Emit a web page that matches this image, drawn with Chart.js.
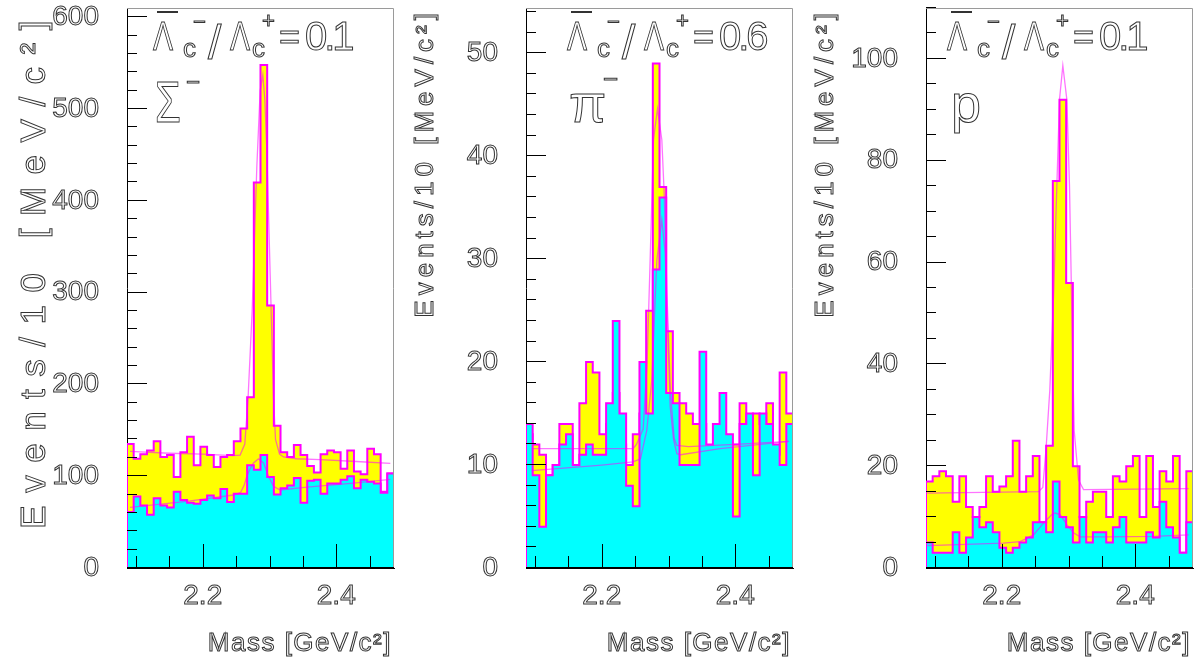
<!DOCTYPE html>
<html>
<head>
<meta charset="utf-8">
<title>Lambda_c mass spectra</title>
<script src="https://cdn.jsdelivr.net/npm/chart.js@4.4.1/dist/chart.umd.min.js"></script>
<style>
  body { margin: 0; background: #fff; width: 1197px; height: 666px; overflow: hidden; }
  canvas { position: absolute; top: 0; }
</style>
</head>
<body>
<canvas id="pad1" width="399" height="666" style="left:0px"></canvas>
<canvas id="pad2" width="399" height="666" style="left:399px"></canvas>
<canvas id="pad3" width="398" height="666" style="left:799px"></canvas>
<script>
// mass binning: 40 bins of 10 MeV around the Lambda_c mass
const massLo = 2.0865;
const binWidth = 0.01;
const nBins = 40;
const binEdges = Array.from({ length: nBins + 1 }, (_, i) => +(massLo + i * binWidth).toFixed(4));
const massTicks = [2.1, 2.15, 2.2, 2.25, 2.3, 2.35, 2.4, 2.45];
const massLabels = [2.2, 2.4];

// Sigma- channel
const sigmaYellow = [135, 119, 124, 128, 138, 121, 123, 99, 126, 143, 112, 132, 123, 110, 121, 123, 138, 152, 186, 420,
  548, 286, 155, 126, 121, 134, 123, 111, 104, 124, 128, 126, 108, 128, 105, 102, 130, 124, 83, 103];
const sigmaCyan = [61, 78, 68, 58, 76, 68, 66, 83, 74, 71, 70, 74, 79, 76, 86, 72, 81, 81, 112, 107,
  123, 99, 80, 87, 90, 98, 71, 95, 96, 81, 92, 92, 96, 100, 87, 96, 94, 92, 82, 103];
const sigmaFitYellow = [[2.091, 127], [2.15, 125], [2.2, 124], [2.245, 122.5], [2.256, 123], [2.263, 135], [2.268, 187],
  [2.274, 280], [2.281, 437], [2.286, 520], [2.29, 537], [2.293, 510], [2.296, 455], [2.301, 320], [2.306, 185],
  [2.309, 140], [2.315, 124], [2.321, 121], [2.34, 119], [2.376, 118], [2.43, 116], [2.481, 114]];
const sigmaFitCyan = [[2.091, 66], [2.176, 72.5], [2.246, 79.5], [2.2565, 82], [2.262, 90], [2.266, 100], [2.271, 108],
  [2.276, 114.5], [2.2835, 119], [2.291, 114.5], [2.2985, 100], [2.306, 89], [2.316, 85], [2.356, 88], [2.426, 92.5],
  [2.481, 96.5]];

// pi- channel
const piYellow = [13, 12, 11, 9, 10, 14, 14, 10, 16, 20, 19, 13, 14, 17, 12, 10, 13, 15, 25, 49,
  37, 23, 17, 16, 15, 14, 14, 11, 12, 13, 12, 12, 16, 13, 15, 14, 16, 11, 19, 15];
const piCyan = [14, 9, 4, 9, 10, 12, 13, 10, 11, 12, 11, 11, 16, 24, 15, 8, 6, 20, 15, 29,
  36, 17, 16, 10, 10, 10, 21, 12, 14, 17, 13, 5, 14, 15, 9, 15, 14, 12, 10, 14];
const piFitYellow = [[2.095, 11.6], [2.247, 11.6], [2.252, 12.0], [2.262, 13.5], [2.268, 20], [2.2725, 30], [2.2775, 41.6],
  [2.2835, 44.6], [2.29, 41.6], [2.2935, 36.4], [2.298, 26], [2.303, 17], [2.3085, 12.6], [2.3125, 11.9], [2.33, 11.8],
  [2.4, 12.0], [2.48, 12.3]];
const piFitCyan = [[2.095, 9.45], [2.2, 10.0], [2.247, 10.3], [2.258, 10.6], [2.2675, 13.4], [2.275, 18.3], [2.2825, 29.9],
  [2.29, 33.8], [2.295, 30.6], [2.3025, 15.7], [2.3075, 12.5], [2.3125, 11.1], [2.318, 11.0], [2.3775, 11.6], [2.48, 12.3]];

// proton channel
const protonYellow = [17, 18, 19, 18, 13, 18, 12, 10, 12, 18, 15, 16, 18, 25, 15, 18, 22, 9, 24, 76,
  92, 56, 20, 10, 13, 15, 15, 10, 18, 17, 20, 22, 10, 22, 12, 19, 17, 22, 3, 19];
const protonCyan = [5, 3, 3, 3, 7, 3, 6, 10, 8, 9, 7, 4, 3, 4, 5, 6, 9, 9, 7, 17,
  10, 8, 5, 10, 5, 7, 7, 5, 8, 10, 5, 5, 5, 7, 6, 13, 8, 6, 3, 9];
const protonFitYellow = [[2.0885, 14.7], [2.2, 14.9], [2.255, 15.0], [2.2615, 15.8], [2.2665, 23.7], [2.272, 35], [2.278, 55],
  [2.2825, 75], [2.2865, 92], [2.2915, 98.7], [2.2975, 92], [2.3015, 75], [2.305, 50], [2.3085, 27], [2.315, 17.3],
  [2.3225, 15.4], [2.4, 15.5], [2.48, 15.6]];
const protonFitCyan = [[2.0885, 4.4], [2.2025, 4.9], [2.2275, 5.2], [2.2475, 6.5], [2.2625, 8.8], [2.275, 10.5], [2.28, 10.8],
  [2.2875, 10.5], [2.2975, 8.5], [2.3075, 6.9], [2.3175, 6.1], [2.3575, 6.1], [2.4275, 6.2], [2.48, 6.5]];

const FONT = '"Liberation Sans", Arial, sans-serif';
const INK = '#333';
const MAGENTA = '#ff00ff';
const FIT = 'rgba(255, 0, 255, 0.55)';

// outline-only text, like the hollow ROOT fonts
function hollowText(ctx, str, x, y, size, o = {}) {
  ctx.save();
  ctx.font = size + 'px ' + FONT;
  ctx.textAlign = o.align || 'left';
  ctx.textBaseline = 'alphabetic';
  ctx.letterSpacing = (o.spacing || 0) + 'px';
  ctx.lineWidth = 1;
  ctx.strokeStyle = INK;
  ctx.translate(x, y);
  if (o.rotate) ctx.rotate(-Math.PI / 2);
  if (o.sx) ctx.scale(o.sx, 1);
  ctx.strokeText(str, 0, 0);
  ctx.restore();
}

function drawRatio(ctx, x0, value) {
  hollowText(ctx, 'Λ', x0, 50, 40, { sx: 0.75 });
  ctx.fillStyle = INK;
  ctx.fillRect(x0 + 4, 11, 21, 2);
  hollowText(ctx, 'c', x0 + 30, 57, 26);
  hollowText(ctx, '−', x0 + 40, 29, 22);
  hollowText(ctx, '/', x0 + 55, 59, 48);
  hollowText(ctx, 'Λ', x0 + 77, 50, 40, { sx: 0.75 });
  hollowText(ctx, 'c', x0 + 99, 57, 26);
  hollowText(ctx, '+', x0 + 109, 28, 22);
  hollowText(ctx, '=', x0 + 126, 49, 36);
  hollowText(ctx, value, x0 + 152, 50, 40, { spacing: -3 });
}

function histPoints(vals) {
  const pts = [{ x: binEdges[0], y: 0 }];
  vals.forEach((v, i) => pts.push({ x: binEdges[i], y: v }));
  pts.push({ x: binEdges[nBins], y: vals[nBins - 1] });
  pts.push({ x: binEdges[nBins], y: 0 });
  return pts;
}

// inward ticks and the grey frame, drawn over the histograms
const rootFrame = {
  id: 'rootFrame',
  afterDatasetsDraw(chart) {
    const { ctx, chartArea: a, scales: { x, y } } = chart;
    ctx.save();
    ctx.strokeStyle = '#9a9a9a';
    ctx.lineWidth = 1;
    ctx.beginPath();
    ctx.moveTo(a.left, a.top + 0.5);
    ctx.lineTo(a.right - 0.5, a.top + 0.5);
    ctx.lineTo(a.right - 0.5, a.bottom);
    ctx.stroke();
    ctx.strokeStyle = '#000';
    ctx.beginPath();
    ctx.moveTo(a.left, a.bottom - 0.5);
    ctx.lineTo(a.right, a.bottom - 0.5);
    x.ticks.forEach(t => {
      const px = Math.round(x.getPixelForValue(t.value)) + 0.5;
      const len = t.label ? 24 : 12;
      ctx.moveTo(px, a.bottom);
      ctx.lineTo(px, a.bottom - len);
    });
    y.ticks.forEach(t => {
      const py = Math.round(y.getPixelForValue(t.value)) - 0.5;
      const len = t.label ? 20 : 10;
      ctx.moveTo(a.left, py);
      ctx.lineTo(a.left + len, py);
    });
    ctx.stroke();
    ctx.restore();
  }
};

function makePad(p) {
  const textPlugin = {
    id: 'padText',
    afterDraw(chart) {
      const ctx = chart.ctx;
      hollowText(ctx, 'Events/10 [MeV/c²]', p.yTitle.x, 8, p.yTitle.size, { rotate: true, align: 'right', spacing: p.yTitle.spacing });
      hollowText(ctx, 'Mass [GeV/c²]', 392, 651, 26, { align: 'right', spacing: 1.5 });
      drawRatio(ctx, p.ratioX, p.ratio);
      p.particle.forEach(t => hollowText(ctx, t.text, t.x, t.y, t.size, { sx: t.sx }));
    }
  };

  const tickFont = { family: FONT, size: 28 };
  new Chart(document.getElementById(p.id), {
    type: 'line',
    data: {
      datasets: [
        { data: p.fitA.map(([x, y]) => ({ x, y })), borderColor: FIT, borderWidth: 1.3, fill: false, order: 0 },
        { data: p.fitB.map(([x, y]) => ({ x, y })), borderColor: FIT, borderWidth: 1.3, fill: false, order: 1 },
        { data: histPoints(p.cyan), stepped: true, fill: 'origin', backgroundColor: '#00ffff', borderColor: MAGENTA, borderWidth: 2, order: 2 },
        { data: histPoints(p.yellow), stepped: true, fill: 'origin', backgroundColor: '#ffff00', borderColor: MAGENTA, borderWidth: 2, order: 3 }
      ]
    },
    options: {
      responsive: false,
      animation: false,
      elements: { point: { radius: 0 }, line: { tension: 0 } },
      layout: { padding: { top: 8, right: p.padRight, left: 0, bottom: 0 } },
      plugins: { legend: { display: false }, tooltip: { enabled: false } },
      scales: {
        x: {
          type: 'linear',
          min: binEdges[0],
          max: binEdges[nBins],
          afterBuildTicks: s => { s.ticks = massTicks.map(v => ({ value: v })); },
          afterFit: s => { s.height = 98; s.paddingLeft = 0; s.paddingRight = 0; },
          grid: { display: false, drawTicks: false },
          border: { display: true, color: '#000', width: 1 },
          ticks: {
            autoSkip: false, maxRotation: 0, padding: 11, font: tickFont,
            color: 'rgba(0,0,0,0)', textStrokeColor: INK, textStrokeWidth: 1,
            callback: v => massLabels.includes(+v.toFixed(2)) ? v.toFixed(1) : ''
          }
        },
        y: {
          type: 'linear',
          min: 0,
          max: p.yMax,
          afterBuildTicks: s => {
            const t = [];
            for (let i = 0; i * p.yStep <= p.yMax; i++) t.push({ value: i * p.yStep });
            s.ticks = t;
          },
          afterFit: s => { s.width = 127; s.paddingTop = 0; s.paddingBottom = 0; },
          grid: { display: false, drawTicks: false },
          border: { display: true, color: '#000', width: 1 },
          ticks: {
            autoSkip: false, padding: 28, font: tickFont,
            color: 'rgba(0,0,0,0)', textStrokeColor: INK, textStrokeWidth: 1,
            callback: v => (Math.round(v) % p.yLabelStep === 0 ? String(Math.round(v)) : '')
          }
        }
      }
    },
    plugins: [rootFrame, textPlugin]
  });
}

makePad({
  id: 'pad1', yellow: sigmaYellow, cyan: sigmaCyan, fitA: sigmaFitYellow, fitB: sigmaFitCyan,
  yMax: 610, yStep: 20, yLabelStep: 100, padRight: 5,
  ratio: '0.1', ratioX: 153,
  particle: [{ text: 'Σ', x: 155, y: 122, size: 58, sx: 0.72 }, { text: '−', x: 186, y: 90, size: 24 }],
  yTitle: { x: 45, size: 35, spacing: 12.5 }
});
makePad({
  id: 'pad2', yellow: piYellow, cyan: piCyan, fitA: piFitYellow, fitB: piFitCyan,
  yMax: 54.4, yStep: 2, yLabelStep: 10, padRight: 5,
  ratio: '0.6', ratioX: 168,
  particle: [{ text: 'π', x: 170, y: 122, size: 54 }, { text: '−', x: 204, y: 88, size: 26 }],
  yTitle: { x: 34, size: 26, spacing: 5 }
});
makePad({
  id: 'pad3', yellow: protonYellow, cyan: protonCyan, fitA: protonFitYellow, fitB: protonFitCyan,
  yMax: 110, yStep: 5, yLabelStep: 20, padRight: 4,
  ratio: '0.1', ratioX: 148,
  particle: [{ text: 'p', x: 152, y: 122, size: 54 }],
  yTitle: { x: 34, size: 26, spacing: 5 }
});
</script>
</body>
</html>
